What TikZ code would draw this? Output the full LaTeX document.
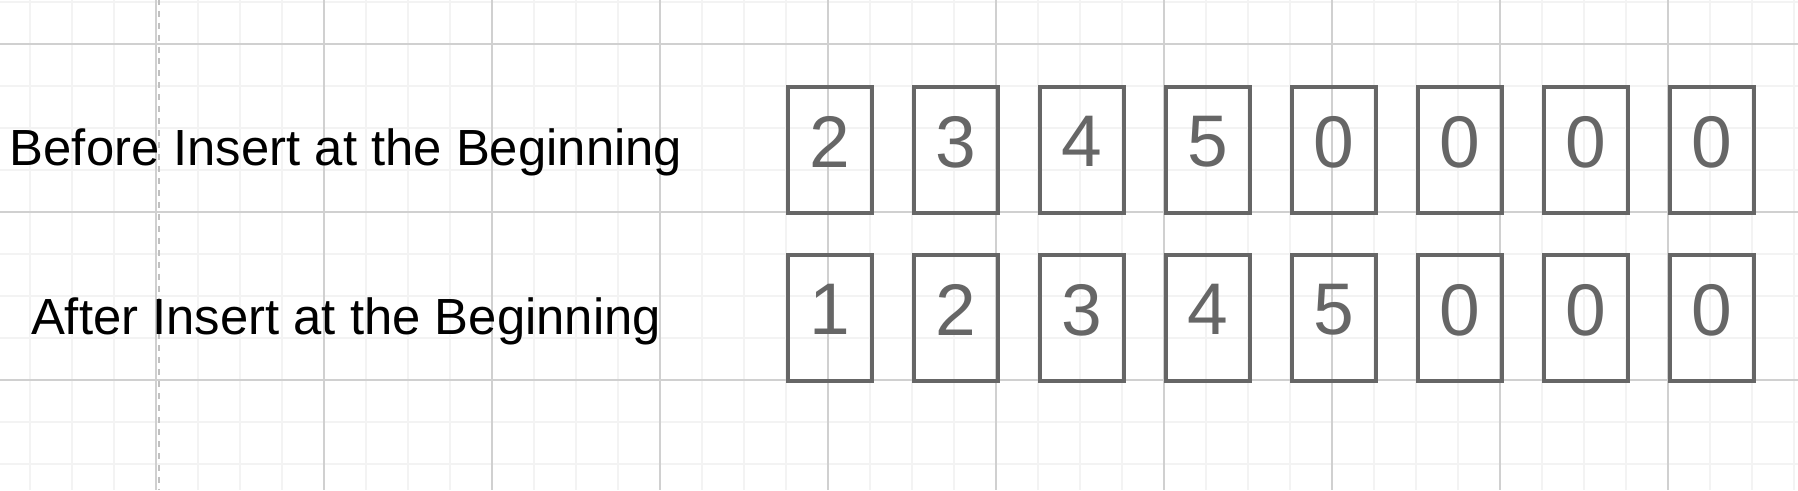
\documentclass[tikz,border=0pt]{standalone}
\usepackage{fontspec}
\setmainfont{Liberation Sans}
\usepackage{tikz}
\usetikzlibrary{positioning}
\definecolor{gridminor}{RGB}{243,243,243}
\definecolor{gridmajor}{RGB}{208,208,208}
\definecolor{pageline}{RGB}{192,192,192}
\definecolor{cellgray}{RGB}{102,102,102}
\tikzset{
    % Background grid lines
    minorline/.style={gridminor,line width=0.5pt},
    majorline/.style={gridmajor,line width=0.45pt},
    % Page break line
    breakline/.style={pageline,line width=0.6pt,dash pattern=on 1.7pt off 1.7pt},
    % Array cell
    cell/.style={rectangle,draw=cellgray,line width=1.15pt,minimum width=0.84cm,
        minimum height=1.26cm,inner sep=0pt,text=cellgray,text depth=0.17cm,
        font=\fontsize{20.8pt}{24pt}\selectfont},
    % Row caption
    caption/.style={anchor=base,inner sep=0pt,font=\fontsize{14.45pt}{17pt}\selectfont}
}
\begin{document}
\begin{tikzpicture}[x=0.01cm,y=-0.01cm]
    \useasboundingbox (0,0) rectangle (1798,490);
    \fill[white] (0,0) rectangle (1798,490);

    % Grid
    \foreach \x in {30,72,...,1794} \draw[minorline] (\x,0) -- (\x,490);
    \foreach \y in {2,44,...,488} \draw[minorline] (0,\y) -- (1798,\y);
    \foreach \x in {156,324,...,1668} \draw[majorline] (\x,0) -- (\x,490);
    \foreach \y in {44,212,380} \draw[majorline] (0,\y) -- (1798,\y);
    \draw[breakline] (158.7,-1.3) -- (158.7,490);

    % Row captions
    \node[caption] (beforecap) at (346,165) {Before Insert at the Beginning};
    \node[caption] (aftercap) at (346,334.5) {After Insert at the Beginning};

    % Array before the insert
    \foreach \v [count=\i] in {2,3,4,5,0,0,0,0}
        \node[cell] (before-\i) at ({830+126*(\i-1)},150) {\v};

    % Array after the insert
    \foreach \v [count=\i] in {1,2,3,4,5,0,0,0}
        \node[cell] (after-\i) at ({830+126*(\i-1)},318) {\v};
\end{tikzpicture}
\end{document}
